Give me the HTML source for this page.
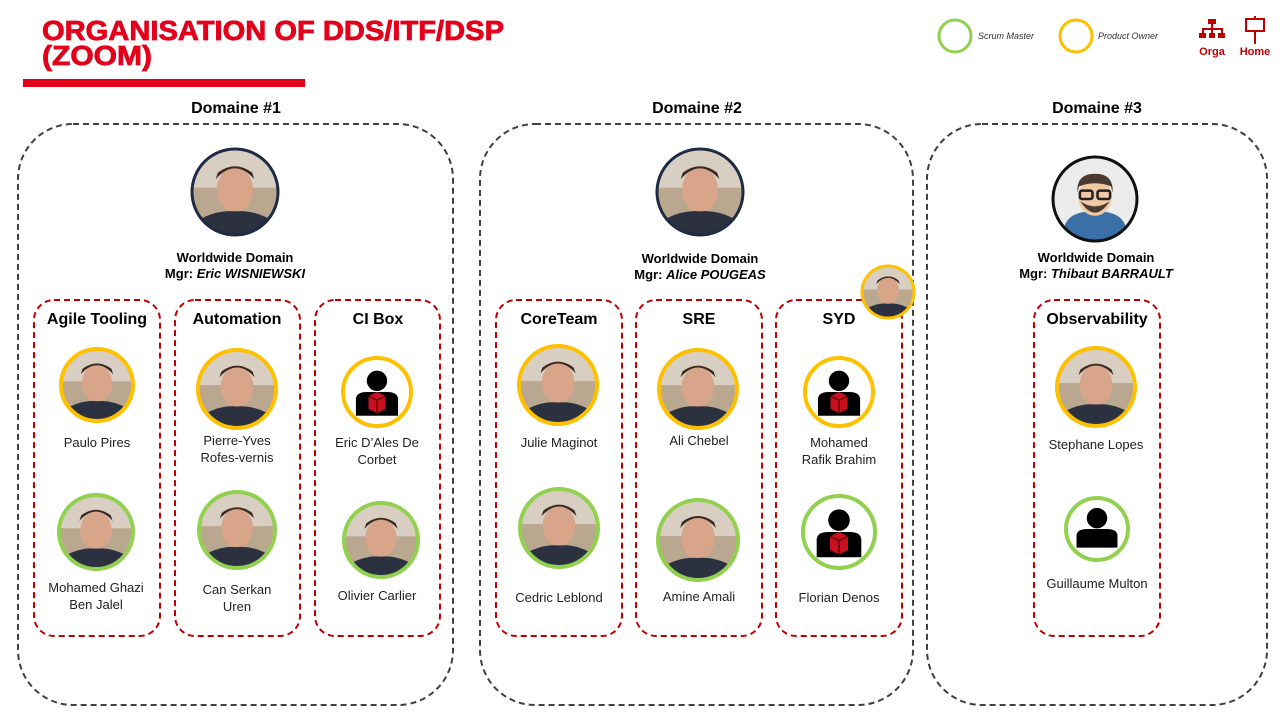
<!DOCTYPE html>
<html><head><meta charset="utf-8"><style>
html,body{margin:0;padding:0;background:#fff;}
svg{display:block;font-family:"Liberation Sans",sans-serif;}
.h{font-weight:bold;font-size:16px;fill:#000;text-anchor:middle;}
.n{font-size:13px;fill:#222;text-anchor:middle;}
.m{font-size:13px;font-weight:bold;fill:#000;text-anchor:middle;}
</style></head><body>
<svg width="1280" height="720" viewBox="0 0 1280 720" xmlns="http://www.w3.org/2000/svg">
<defs>
<clipPath id="uc"><circle cx="0" cy="0" r="1"/></clipPath>
<symbol id="face" viewBox="-1 -1 2 2">
 <g clip-path="url(#uc)">
 <circle r="1" fill="#b9a78f"/>
 <rect x="-1" y="-1" width="2" height="0.9" fill="#d8cfc2"/>
 <ellipse cx="0" cy="-0.05" rx="0.42" ry="0.52" fill="#d9a58a"/>
 <path d="M-0.45,-0.3 Q0,-0.8 0.45,-0.3 L0.4,-0.45 Q0,-0.75 -0.4,-0.45Z" fill="#3a2a20"/>
 <path d="M-1,1 L-1,0.75 Q-0.5,0.4 0,0.45 Q0.5,0.4 1,0.75 L1,1Z" fill="#2c3140"/>
 </g>
</symbol>
<symbol id="icon" viewBox="-1 -1 2 2">
 <circle r="1" fill="#fff"/>
 <circle cx="0" cy="-0.33" r="0.3" fill="#000"/>
 <path d="M-0.62,0.7 L-0.62,0.2 Q-0.6,0 -0.3,0 L0.3,0 Q0.6,0 0.62,0.2 L0.62,0.7Z" fill="#000"/>
 <path d="M-0.25,0.12 L0,0 L0.25,0.12 L0.25,0.5 L0,0.62 L-0.25,0.5Z" fill="#c8101e"/>
 <path d="M-0.25,0.12 L0,0.24 L0.25,0.12 M0,0.24 L0,0.62" stroke="#600" stroke-width="0.04" fill="none"/>
</symbol>
<symbol id="icon2" viewBox="-1 -1 2 2">
 <circle r="1" fill="#fff"/>
 <circle cx="0" cy="-0.35" r="0.33" fill="#000"/>
 <path d="M-0.66,0.6 L-0.66,0.2 Q-0.64,0 -0.3,0 L0.3,0 Q0.64,0 0.66,0.2 L0.66,0.6Z" fill="#000"/>
</symbol>
<symbol id="avatar" viewBox="-1 -1 2 2">
 <g clip-path="url(#uc)">
 <circle r="1" fill="#ececec"/>
 <path d="M-0.75,1 L-0.75,0.75 Q-0.7,0.35 -0.2,0.3 L0.2,0.3 Q0.7,0.35 0.75,0.75 L0.75,1Z" fill="#3b6fa8"/>
 <ellipse cx="0" cy="-0.05" rx="0.4" ry="0.45" fill="#f1c9a5"/>
 <path d="M-0.42,-0.15 Q-0.45,-0.6 0,-0.6 Q0.45,-0.6 0.42,-0.15 L0.38,-0.3 Q0,-0.45 -0.38,-0.3Z" fill="#4a3a30"/>
 <path d="M-0.35,0.05 Q0,0.6 0.35,0.05 Q0,0.3 -0.35,0.05Z" fill="#4a3a30"/>
 <rect x="-0.36" y="-0.2" width="0.3" height="0.2" rx="0.05" fill="none" stroke="#222" stroke-width="0.06"/>
 <rect x="0.06" y="-0.2" width="0.3" height="0.2" rx="0.05" fill="none" stroke="#222" stroke-width="0.06"/>
 </g>
</symbol>
</defs>

<!-- Header -->
<text x="42" y="40" font-size="28" font-weight="bold" fill="#e3001b" stroke="#e3001b" stroke-width="0.8" textLength="462" lengthAdjust="spacingAndGlyphs">ORGANISATION OF DDS/ITF/DSP</text>
<text x="42" y="65" font-size="28" font-weight="bold" fill="#e3001b" stroke="#e3001b" stroke-width="0.8" textLength="110" lengthAdjust="spacingAndGlyphs">(ZOOM)</text>
<rect x="23" y="79" width="282" height="8" fill="#e3001b"/>

<!-- legend -->
<circle cx="955" cy="36" r="16" fill="none" stroke="#92d050" stroke-width="3"/>
<text x="978" y="39" font-size="9" font-style="italic" fill="#333">Scrum Master</text>
<circle cx="1076" cy="36" r="16" fill="none" stroke="#ffc000" stroke-width="3"/>
<text x="1098" y="39" font-size="9" font-style="italic" fill="#333">Product Owner</text>
<g fill="#c00000">
 <rect x="1208" y="19" width="8" height="5"/>
 <rect x="1211" y="24" width="2" height="5"/>
 <rect x="1202" y="28" width="21" height="2"/>
 <rect x="1202" y="28" width="2" height="5"/><rect x="1211" y="28" width="2" height="5"/><rect x="1221" y="28" width="2" height="5"/>
 <rect x="1199" y="33" width="7" height="5"/><rect x="1209" y="33" width="6" height="5"/><rect x="1218" y="33" width="7" height="5"/>
</g>
<text x="1212" y="55" font-size="11" font-weight="bold" fill="#c00000" text-anchor="middle">Orga</text>
<rect x="1246" y="19" width="18" height="12" fill="none" stroke="#c00000" stroke-width="2"/>
<rect x="1254" y="16" width="2" height="3" fill="#c00000"/>
<rect x="1254" y="31" width="2" height="13" fill="#c00000"/>
<text x="1255" y="55" font-size="11" font-weight="bold" fill="#c00000" text-anchor="middle">Home</text>

<!-- Domains -->
<text x="236" y="113" class="h">Domaine #1</text>
<text x="697" y="113" class="h">Domaine #2</text>
<text x="1097" y="113" class="h">Domaine #3</text>
<g fill="none" stroke="#404040" stroke-width="2" stroke-dasharray="6,4">
<rect x="18" y="124" width="435" height="581" rx="55"/>
<rect x="480" y="124" width="433" height="581" rx="55"/>
<rect x="927" y="124" width="340" height="581" rx="55"/>
</g>
<g fill="none" stroke="#c00000" stroke-width="2" stroke-dasharray="6,4">
<rect x="34" y="300" width="126" height="336" rx="20"/>
<rect x="175" y="300" width="125" height="336" rx="20"/>
<rect x="315" y="300" width="125" height="336" rx="20"/>
<rect x="496" y="300" width="126" height="336" rx="20"/>
<rect x="636" y="300" width="126" height="336" rx="20"/>
<rect x="776" y="300" width="126" height="336" rx="20"/>
<rect x="1034" y="300" width="126" height="336" rx="20"/>
</g>

<!-- Managers -->
<use href="#face" x="192" y="149" width="86" height="86"/>
<circle cx="235" cy="192" r="43" fill="none" stroke="#1f2a44" stroke-width="3"/>
<text x="235" y="262" class="m">Worldwide Domain</text>
<text x="235" y="278" class="m">Mgr: <tspan font-style="italic">Eric WISNIEWSKI</tspan></text>

<use href="#face" x="657" y="149" width="86" height="86"/>
<circle cx="700" cy="192" r="43" fill="none" stroke="#1f2a44" stroke-width="3"/>
<text x="700" y="263" class="m">Worldwide Domain</text>
<text x="700" y="279" class="m">Mgr: <tspan font-style="italic">Alice POUGEAS</tspan></text>

<use href="#avatar" x="1053" y="157" width="84" height="84"/>
<circle cx="1095" cy="199" r="42" fill="none" stroke="#111" stroke-width="3"/>
<text x="1096" y="262" class="m">Worldwide Domain</text>
<text x="1096" y="278" class="m">Mgr: <tspan font-style="italic">Thibaut BARRAULT</tspan></text>

<use href="#face" x="862" y="266" width="52" height="52"/>
<circle cx="888" cy="292" r="26" fill="none" stroke="#ffc000" stroke-width="3"/>

<!-- Team titles -->
<text x="97" y="324" class="h" font-size="15">Agile Tooling</text>
<text x="237" y="324" class="h" font-size="15">Automation</text>
<text x="378" y="324" class="h" font-size="15">CI Box</text>
<text x="559" y="324" class="h" font-size="15">CoreTeam</text>
<text x="699" y="324" class="h" font-size="15">SRE</text>
<text x="839" y="324" class="h" font-size="15">SYD</text>
<text x="1097" y="324" class="h" font-size="15">Observability</text>

<!-- People -->
<use href="#face" x="61" y="349" width="72" height="72"/><circle cx="97" cy="385" r="36" fill="none" stroke="#ffc000" stroke-width="4"/>
<text x="97" y="447" class="n">Paulo Pires</text>
<use href="#face" x="59" y="495" width="74" height="74"/><circle cx="96" cy="532" r="37" fill="none" stroke="#92d050" stroke-width="4"/>
<text x="96" y="592" class="n">Mohamed Ghazi</text><text x="96" y="609" class="n">Ben Jalel</text>

<use href="#face" x="198" y="350" width="78" height="78"/><circle cx="237" cy="389" r="39" fill="none" stroke="#ffc000" stroke-width="4"/>
<text x="237" y="445" class="n">Pierre-Yves</text><text x="237" y="462" class="n">Rofes-vernis</text>
<use href="#face" x="199" y="492" width="76" height="76"/><circle cx="237" cy="530" r="38" fill="none" stroke="#92d050" stroke-width="4"/>
<text x="237" y="594" class="n">Can Serkan</text><text x="237" y="611" class="n">Uren</text>

<use href="#icon" x="343" y="358" width="68" height="68"/><circle cx="377" cy="392" r="34" fill="none" stroke="#ffc000" stroke-width="4"/>
<text x="377" y="447" class="n">Eric D’Ales De</text><text x="377" y="464" class="n">Corbet</text>
<use href="#face" x="344" y="503" width="74" height="74"/><circle cx="381" cy="540" r="37" fill="none" stroke="#92d050" stroke-width="4"/>
<text x="377" y="600" class="n">Olivier Carlier</text>

<use href="#face" x="519" y="346" width="78" height="78"/><circle cx="558" cy="385" r="39" fill="none" stroke="#ffc000" stroke-width="4"/>
<text x="559" y="447" class="n">Julie Maginot</text>
<use href="#face" x="520" y="489" width="78" height="78"/><circle cx="559" cy="528" r="39" fill="none" stroke="#92d050" stroke-width="4"/>
<text x="559" y="602" class="n">Cedric Leblond</text>

<use href="#face" x="659" y="350" width="78" height="78"/><circle cx="698" cy="389" r="39" fill="none" stroke="#ffc000" stroke-width="4"/>
<text x="699" y="445" class="n">Ali Chebel</text>
<use href="#face" x="658" y="500" width="80" height="80"/><circle cx="698" cy="540" r="40" fill="none" stroke="#92d050" stroke-width="4"/>
<text x="699" y="601" class="n">Amine Amali</text>

<use href="#icon" x="805" y="358" width="68" height="68"/><circle cx="839" cy="392" r="34" fill="none" stroke="#ffc000" stroke-width="4"/>
<text x="839" y="447" class="n">Mohamed</text><text x="839" y="464" class="n">Rafik Brahim</text>
<use href="#icon" x="803" y="496" width="72" height="72"/><circle cx="839" cy="532" r="36" fill="none" stroke="#92d050" stroke-width="4"/>
<text x="839" y="602" class="n">Florian Denos</text>

<use href="#face" x="1057" y="348" width="78" height="78"/><circle cx="1096" cy="387" r="39" fill="none" stroke="#ffc000" stroke-width="4"/>
<text x="1096" y="449" class="n">Stephane Lopes</text>
<use href="#icon2" x="1066" y="498" width="62" height="62"/><circle cx="1097" cy="529" r="31" fill="none" stroke="#92d050" stroke-width="4"/>
<text x="1097" y="588" class="n">Guillaume Multon</text>
</svg>
</body></html>
